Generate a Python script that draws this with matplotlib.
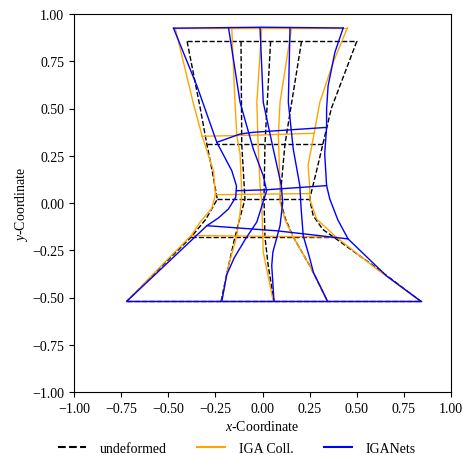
import matplotlib
matplotlib.use("Agg")
import matplotlib.pyplot as plt
import numpy as np

plt.rcParams["font.family"] = ["Liberation Serif", "DejaVu Serif"]
plt.rcParams["font.size"] = 10
plt.rcParams["mathtext.fontset"] = "custom"
plt.rcParams["mathtext.rm"] = "Liberation Serif"
plt.rcParams["mathtext.it"] = "Liberation Serif:italic"

# mesh lines, each curve as (x, y) points
undeformed_vertical = [
    [(-0.40, 0.855), (-0.33, 0.50), (-0.295, 0.31), (-0.265, 0.16), (-0.24, 0.02),
     (-0.30, -0.085), (-0.378, -0.18), (-0.55, -0.35), (-0.72, -0.52)],
    [(-0.114, 0.855), (-0.11, 0.31), (-0.093, 0.02), (-0.12, -0.08), (-0.146, -0.18),
     (-0.18, -0.33), (-0.22, -0.52)],
    [(0.043, 0.855), (0.013, 0.31), (0.008, 0.02), (0.013, -0.18), (0.03, -0.33),
     (0.061, -0.52)],
    [(0.207, 0.855), (0.119, 0.31), (0.093, 0.02), (0.12, -0.08), (0.163, -0.18),
     (0.25, -0.33), (0.345, -0.52)],
    [(0.50, 0.855), (0.365, 0.50), (0.32, 0.31), (0.287, 0.171), (0.25, 0.02),
     (0.269, -0.067), (0.32, -0.14), (0.384, -0.185), (0.60, -0.34), (0.84, -0.52)],
]
undeformed_horizontal = [
    [(-0.72, -0.52), (0.84, -0.52)],
    [(-0.378, -0.182), (0.384, -0.182)],
    [(-0.24, 0.02), (0.25, 0.02)],
    [(-0.295, 0.31), (0.32, 0.31)],
    [(-0.40, 0.855), (0.50, 0.855)],
]

iga_vertical = [
    [(-0.463, 0.926), (-0.366, 0.524), (-0.32, 0.353), (-0.26, 0.171), (-0.25, 0.044),
     (-0.27, -0.03), (-0.33, -0.10), (-0.378, -0.172), (-0.55, -0.345), (-0.72, -0.52)],
    [(-0.163, 0.926), (-0.146, 0.533), (-0.136, 0.356), (-0.119, 0.26), (-0.11, 0.048),
     (-0.12, -0.06), (-0.136, -0.173), (-0.18, -0.33), (-0.216, -0.52)],
    [(-0.004, 0.926), (-0.03, 0.533), (-0.022, 0.268), (-0.013, 0.092), (-0.004, 0.004),
     (0.004, -0.26), (0.057, -0.52)],
    [(0.154, 0.926), (0.093, 0.533), (0.084, 0.356), (0.093, 0.092), (0.093, 0.004),
     (0.12, -0.09), (0.163, -0.18), (0.251, -0.332), (0.345, -0.52)],
    [(0.45, 0.926), (0.375, 0.744), (0.304, 0.533), (0.274, 0.369), (0.242, 0.20),
     (0.25, 0.09), (0.251, 0.021), (0.287, -0.085), (0.39, -0.18), (0.60, -0.345),
     (0.84, -0.52)],
]
iga_horizontal = [
    [(-0.72, -0.52), (0.84, -0.52)],
    [(-0.378, -0.172), (0.39, -0.18)],
    [(-0.25, 0.044), (0.251, 0.05)],
    [(-0.32, 0.353), (0.0, 0.36), (0.274, 0.369)],
    [(-0.463, 0.926), (0.45, 0.926)],
]

nets_vertical = [
    [(-0.472, 0.925), (-0.348, 0.62), (-0.242, 0.32), (-0.163, 0.171), (-0.138, 0.09),
     (-0.142, 0.03), (-0.181, -0.032), (-0.235, -0.08), (-0.295, -0.12), (-0.72, -0.52)],
    [(-0.18, 0.926), (-0.119, 0.533), (-0.049, 0.286), (0.004, 0.144), (0.022, 0.065),
     (-0.03, -0.10), (-0.09, -0.19), (-0.15, -0.29), (-0.19, -0.38), (-0.216, -0.52)],
    [(-0.013, 0.926), (0.004, 0.533), (0.057, 0.286), (0.10, 0.092), (0.107, 0.0),
     (0.093, -0.12), (0.055, -0.26), (0.049, -0.332), (0.061, -0.52)],
    [(0.146, 0.926), (0.137, 0.533), (0.163, 0.286), (0.198, 0.092), (0.205, -0.03),
     (0.216, -0.173), (0.25, -0.29), (0.27, -0.367), (0.345, -0.52)],
    [(0.428, 0.926), (0.384, 0.797), (0.348, 0.62), (0.34, 0.497), (0.34, 0.40),
     (0.33, 0.26), (0.34, 0.092), (0.357, 0.021), (0.40, -0.09), (0.454, -0.19),
     (0.657, -0.385), (0.84, -0.52)],
]
nets_horizontal = [
    [(-0.72, -0.52), (0.84, -0.52)],
    [(-0.295, -0.12), (0.075, -0.147), (0.454, -0.19)],
    [(-0.138, 0.065), (0.022, 0.07), (0.34, 0.092)],
    [(-0.242, 0.321), (-0.119, 0.365), (-0.049, 0.374), (0.34, 0.40)],
    [(-0.472, 0.925), (0.0, 0.93), (0.428, 0.926)],
]

ticks = [-1.0, -0.75, -0.5, -0.25, 0.0, 0.25, 0.5, 0.75, 1.0]


def draw_mesh(ax, vertical, horizontal, **style):
    for curve in vertical + horizontal:
        pts = np.array(curve)
        ax.plot(pts[:, 0], pts[:, 1], **style)


fig = plt.figure(figsize=(4.65, 4.56), dpi=100)
ax = fig.add_axes([74 / 465, 63 / 456, 377 / 465, 378 / 456])

draw_mesh(ax, undeformed_vertical, undeformed_horizontal,
          color="black", linestyle="--", linewidth=1.0)
draw_mesh(ax, iga_vertical, iga_horizontal, color="orange", linewidth=1.0)
draw_mesh(ax, nets_vertical, nets_horizontal, color="blue", linewidth=1.0)

# legend proxies
ax.plot([], [], color="black", linestyle="--", linewidth=1.5, label="undeformed")
ax.plot([], [], color="orange", linewidth=1.5, label="IGA Coll.")
ax.plot([], [], color="blue", linewidth=1.5, label="IGANets")

ax.set_xlim(-1, 1)
ax.set_ylim(-1, 1)
ax.set_xticks(ticks)
ax.set_yticks(ticks)
ax.set_xticklabels([f"{t:.2f}".replace("-", "\u2212") for t in ticks])
ax.set_yticklabels([f"{t:.2f}".replace("-", "\u2212") for t in ticks])
ax.set_xlabel(r"$x$-Coordinate", labelpad=3)
ax.set_ylabel(r"$y$-Coordinate", labelpad=2)

fig.legend(loc="lower center", bbox_to_anchor=(0.51, -0.027), ncol=3, frameon=False,
           handletextpad=1.0, columnspacing=2.2)

fig.savefig("out.png", dpi=100)
